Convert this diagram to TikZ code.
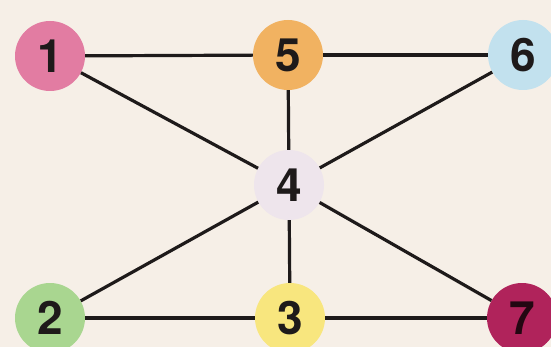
\documentclass[tikz,border=0pt]{standalone}
\usepackage{fontspec}
\setmainfont{TeX Gyre Heros}
\usepackage{xcolor}
\usetikzlibrary{positioning}
\definecolor{paper}{HTML}{F6EFE7}
\definecolor{pinkA}{HTML}{E27CA2}
\definecolor{orangeA}{HTML}{F1B261}
\definecolor{blueA}{HTML}{C2E1EE}
\definecolor{lilacA}{HTML}{EEE5EC}
\definecolor{greenA}{HTML}{A9D690}
\definecolor{yellowA}{HTML}{F8E67E}
\definecolor{crimsonA}{HTML}{B0235B}
\definecolor{inkA}{HTML}{1E1A1A}

\begin{document}
\begin{tikzpicture}[x=1pt, y=-1pt, font=\fontsize{46}{48}\selectfont\bfseries,
  vert/.style={circle, minimum size=70pt, inner sep=0pt, text=inkA},
  link/.style={line width=3.2pt, draw=inkA}]
\fill[paper] (0,0) rectangle (551,347);
\useasboundingbox (0,0) rectangle (551,347);
\node[vert, fill=pinkA] (v1) at (50,56) {1};
\node[vert, fill=orangeA] (v5) at (288,55) {5};
\node[vert, fill=blueA] (v6) at (523,55) {6};
\node[vert, fill=lilacA] (v4) at (289,185) {4};
\node[vert, fill=greenA] (v2) at (50,318) {2};
\node[vert, fill=yellowA] (v3) at (290,318) {3};
\node[vert, fill=crimsonA, text=black!80!crimsonA] (v7) at (522,318) {7};
\draw[link] (v1)--(v5); \draw[link] (v5)--(v6);
\draw[link] (v1)--(v4); \draw[link] (v5)--(v4); \draw[link] (v6)--(v4);
\draw[link] (v4)--(v2); \draw[link] (v4)--(v3); \draw[link] (v4)--(v7);
\draw[link] (v2)--(v3); \draw[link] (v3)--(v7);
\end{tikzpicture}
\end{document}
